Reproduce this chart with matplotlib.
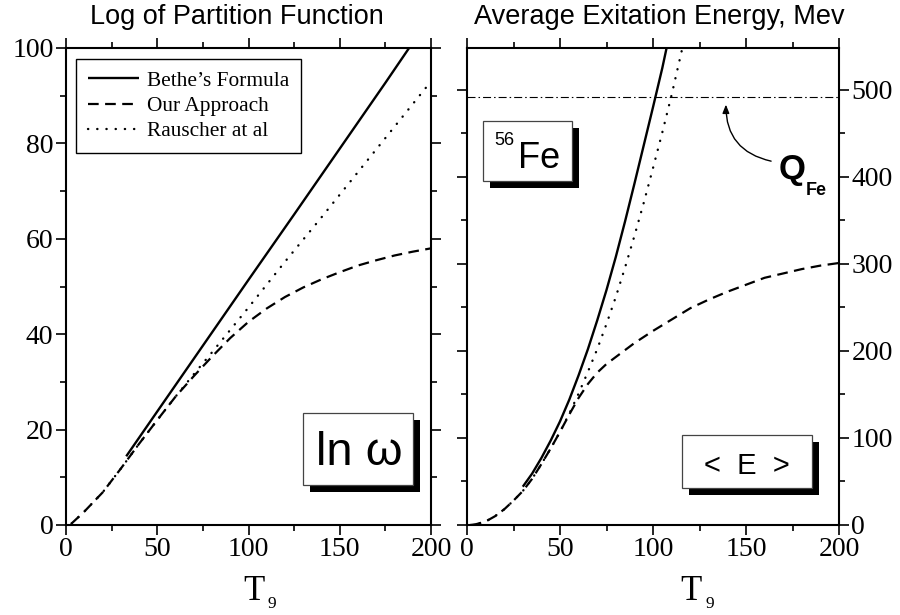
import matplotlib
matplotlib.use('Agg')
import matplotlib.pyplot as plt
from matplotlib.patches import Rectangle
from matplotlib.ticker import MultipleLocator
import matplotlib.font_manager as fm

# ---------------- data ----------------
# Left panel: ln(omega) vs T9
T_bethe_L = [33, 50, 75, 100, 125, 150, 175, 188]
lnw_bethe = [14.4, 23.8, 37.6, 51.4, 65.1, 78.9, 92.7, 100.0]

T_ours_L = [3, 10, 20, 30, 40, 50, 60, 70, 80, 90, 100, 110, 120, 130, 140, 150, 160, 170, 180, 190, 200]
lnw_ours = [0.3, 2.8, 6.8, 11.8, 17.0, 22.0, 26.9, 31.2, 35.3, 39.2, 42.6, 45.4, 47.8, 49.8, 51.5,
            53.0, 54.4, 55.5, 56.5, 57.3, 58.0]

T_rau_L = [3, 10, 20, 30, 40, 50, 60, 70, 80, 100, 120, 140, 160, 180, 200]
lnw_rau = [0.3, 2.8, 6.8, 11.8, 17.0, 22.0, 26.9, 31.6, 36.2, 45.6, 55.2, 64.5, 74.0, 83.5, 93.0]

# Right panel: <E> (MeV) vs T9
T_bethe_R = [30, 35, 40, 45, 50, 55, 60, 65, 70, 75, 80, 85, 90, 95, 100, 105, 108]
E_bethe = [44, 59, 77, 97, 119, 144, 172, 202, 235, 270, 308, 349, 392, 436, 480, 525, 555]

T_ours_R = [2, 5, 10, 15, 20, 25, 30, 35, 40, 45, 50, 55, 60, 65, 70, 75, 80, 90, 100, 110,
            120, 130, 140, 150, 160, 170, 180, 190, 200]
E_ours = [0, 1, 4, 10, 18, 28, 39, 53, 70, 88, 107, 127, 146, 162, 175, 185, 193, 209, 223, 236,
          249, 259, 268, 276, 284, 289, 294, 298, 301]

T_rau_R = [2, 5, 10, 15, 20, 25, 30, 35, 40, 45, 50, 55, 60, 65, 70, 75, 80, 85, 90, 95,
           100, 105, 110, 116]
E_rau = [0, 1, 4, 10, 18, 28, 39, 53, 70, 88, 107, 128, 151, 176, 202, 231, 262, 296, 332, 370,
         410, 451, 494, 550]

Q_Fe = 492

legend_labels = ["Bethe\u2019s Formula", "Our Approach", "Rauscher at al"]
titles = ["Log of Partition Function", "Average Exitation Energy, Mev"]
x_ticks = [0, 50, 100, 150, 200]

# ---------------- style ----------------
W, H = 900, 615
names = {f.name for f in fm.fontManager.ttflist}
narrow = 'Liberation Sans Narrow' in names
title_family = ['Liberation Sans Narrow', 'DejaVu Sans'] if narrow else ['Liberation Sans', 'DejaVu Sans']
title_size = 23 if narrow else 19.5
serif = ['Liberation Serif', 'DejaVu Serif']
sans = ['Liberation Sans', 'DejaVu Sans']

plt.rcParams['font.family'] = serif
fig = plt.figure(figsize=(W / 100, H / 100), dpi=100)

def fx(px):
    return px / W

def fy(py):
    return 1 - py / H

ax1 = fig.add_axes([fx(66), fy(525), 365 / W, 477 / H])
ax2 = fig.add_axes([fx(467), fy(525), 372 / W, 477 / H])

solid_kw = dict(color='black', lw=1.7, solid_capstyle='butt', solid_joinstyle='round')
dash_kw = dict(color='black', lw=1.6, linestyle=(0, (4.8, 2.9)))
dot_kw = dict(color='black', lw=1.7, linestyle=(0, (0.1, 3.8)), dash_capstyle='round')

l1, = ax1.plot(T_bethe_L, lnw_bethe, **solid_kw)
l2, = ax1.plot(T_ours_L, lnw_ours, **dash_kw)
l3, = ax1.plot(T_rau_L, lnw_rau, **dot_kw)

ax2.plot(T_bethe_R, E_bethe, **solid_kw)
ax2.plot(T_ours_R, E_ours, **dash_kw)
ax2.plot(T_rau_R, E_rau, **dot_kw)
ax2.axhline(Q_Fe, color='black', lw=0.8, linestyle=(0, (7.2, 2.7, 1.4, 2.7)))

ax1.set_xlim(0, 200)
ax1.set_ylim(0, 100)
ax2.set_xlim(0, 200)
ax2.set_ylim(0, 548)

for ax in (ax1, ax2):
    ax.set_xticks(x_ticks)
    ax.xaxis.set_minor_locator(MultipleLocator(25))
    for s in ax.spines.values():
        s.set_linewidth(1.5)
    ax.tick_params(which='both', direction='out', top=True, right=True,
                   width=1.2, labelsize=20, pad=2)
    ax.tick_params(which='major', length=7)
    ax.tick_params(which='minor', length=4.5)

ax1.yaxis.set_major_locator(MultipleLocator(20))
ax1.yaxis.set_minor_locator(MultipleLocator(10))
ax2.yaxis.set_major_locator(MultipleLocator(100))
ax2.yaxis.set_minor_locator(MultipleLocator(50))
ax2.tick_params(axis='y', which='both', labelleft=False, labelright=True)

leg = ax1.legend([l1, l2, l3], legend_labels, loc='upper left',
                 bbox_to_anchor=(10 / 365, 1 - 11 / 477), borderaxespad=0,
                 fancybox=False, framealpha=1, edgecolor='black',
                 prop={'family': serif, 'size': 15.4}, handlelength=2.4,
                 handletextpad=0.35, labelspacing=0.25, borderpad=0.55)
leg.get_frame().set_linewidth(1.0)

# titles
fig.text(fx(237), fy(17), titles[0], ha='center', va='center',
         family=title_family, fontsize=title_size)
fig.text(fx(659), fy(17), titles[1], ha='center', va='center',
         family=title_family, fontsize=title_size)

# axis labels T_9
for tx, sx in ((243, 268), (680, 705)):
    fig.text(fx(tx), fy(600), 'T', ha='left', va='baseline', family=serif, fontsize=25)
    fig.text(fx(sx), fy(608), '9', ha='left', va='baseline', family=serif, fontsize=12.5)

# shadow boxes
def shadow_box(x0, y0, x1, y1, off=6.5):
    fig.add_artist(Rectangle((fx(x0 + off), fy(y1 + off)), (x1 - x0) / W, (y1 - y0) / H,
                             transform=fig.transFigure, facecolor='black',
                             edgecolor='none', zorder=5))
    fig.add_artist(Rectangle((fx(x0), fy(y1)), (x1 - x0) / W, (y1 - y0) / H,
                             transform=fig.transFigure, facecolor='white',
                             edgecolor='#444444', lw=0.9, zorder=6))

shadow_box(303, 413, 413, 485)
fig.text(fx(316), fy(465), 'ln \u03c9', ha='left', va='baseline', family=sans,
         fontsize=34, zorder=7)

shadow_box(483, 121, 572, 181)
fig.text(fx(494), fy(145), '56', ha='left', va='baseline', family=sans,
         fontsize=13, zorder=7)
fig.text(fx(518), fy(167.5), 'Fe', ha='left', va='baseline', family=sans,
         fontsize=26, zorder=7)

shadow_box(682, 435, 812, 488)
fig.text(fx(747), fy(473.5), '<  E  >', ha='center', va='baseline', family=sans,
         fontsize=21, zorder=7)

# Q_Fe label and arrow
fig.text(fx(779), fy(179), 'Q', ha='left', va='baseline', family=sans,
         fontsize=25, fontweight='bold')
fig.text(fx(806), fy(195), 'Fe', ha='left', va='baseline', family=sans,
         fontsize=13, fontweight='bold')
ax2.annotate('', xy=(139.2, 483), xytext=(163.5, 418),
             arrowprops=dict(arrowstyle='-|>,head_length=0.5,head_width=0.2',
                             color='black', lw=1.0,
                             connectionstyle='arc3,rad=-0.4', shrinkA=0, shrinkB=0))

fig.savefig('out.png', dpi=100)
